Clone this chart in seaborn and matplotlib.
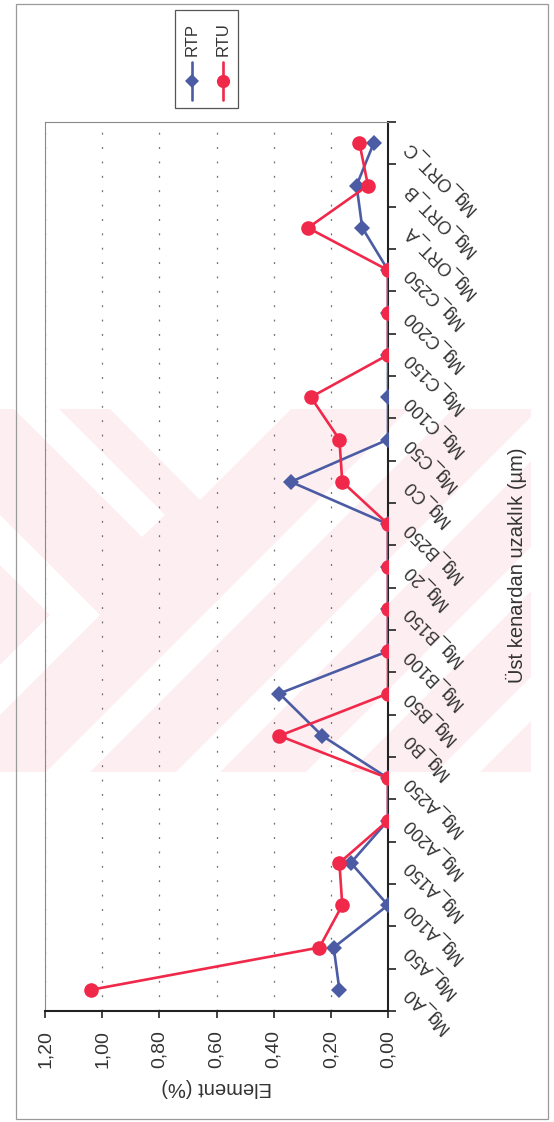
import numpy as np
import pandas as pd
import matplotlib
matplotlib.use("Agg")
import matplotlib.pyplot as plt
import seaborn as sns
from matplotlib.lines import Line2D
from matplotlib.patches import Rectangle, Polygon
from matplotlib.ticker import FixedLocator

# ---------------- data ----------------
categories = ["Mg_A0", "Mg_A50", "Mg_A100", "Mg_A150", "Mg_A200", "Mg_A250",
              "Mg_B0", "Mg_B50", "Mg_B100", "Mg_B150", "Mg_20", "Mg_B250",
              "Mg_C0", "Mg_C50", "Mg_C100", "Mg_C150", "Mg_C200", "Mg_C250",
              "Mg_ORT_A", "Mg_ORT_B", "Mg_ORT_C"]
rtp = [0.17, 0.19, 0.00, 0.13, 0.00, 0.00, 0.23, 0.38, 0.00, 0.00, 0.00,
       0.00, 0.34, 0.00, 0.00, 0.00, 0.00, 0.00, 0.09, 0.11, 0.05]
rtu = [1.04, 0.24, 0.16, 0.17, 0.00, 0.00, 0.38, 0.00, 0.00, 0.00, 0.00,
       0.00, 0.16, 0.17, 0.27, 0.00, 0.00, 0.00, 0.28, 0.07, 0.10]
series_names = ["RTP", "RTU"]
value_ticks = [0.0, 0.2, 0.4, 0.6, 0.8, 1.0, 1.2]
value_tick_labels = ["0,00", "0,20", "0,40", "0,60", "0,80", "1,00", "1,20"]
x_title = "Üst kenardan uzaklık (µm)"
y_title = "Element (%)"

# ---------------- style ----------------
sns.set_style("white")
plt.rcParams['font.family'] = ['Liberation Sans', 'DejaVu Sans']
BLUE = "#4b5ca4"
RED = "#f0284a"
PINK = "#fdeef1"
W, H = 554, 1122

fig = plt.figure(figsize=(W / 100, H / 100), dpi=100)

def P(x, y):
    return (x / W, 1 - y / H)

# ---------- scanned-page watermark (background decoration) ----------
pink = Rectangle(P(0, 772), 531 / W, (772 - 409) / H, transform=fig.transFigure,
                 facecolor=PINK, edgecolor='none', zorder=-10)
fig.add_artist(pink)
white_shapes = []
for c in [840, 970, 1100, 1230]:
    w = 22
    white_shapes.append([(c - w - 300, 300), (c + w - 300, 300),
                         (c + w - 900, 900), (c - w - 900, 900)])
white_shapes.append([(110, 409), (291, 409), (200, 500)])
white_shapes.append([(14, 409), (59, 409), (165, 515), (142, 537)])
white_shapes.append([(0, 515), (100, 615), (0, 715), (0, 665), (50, 615), (0, 565)])
for shp in white_shapes:
    poly = Polygon([P(x, y) for x, y in shp], closed=True, transform=fig.transFigure,
                   facecolor='white', edgecolor='none', zorder=-9)
    poly.set_clip_path(pink)
    fig.add_artist(poly)

# page frame
frame = Rectangle(P(16, 1119), (548 - 16) / W, (1119 - 4) / H, transform=fig.transFigure,
                  facecolor='none', edgecolor='#9a9a9a', lw=0.9, zorder=-5)
fig.add_artist(frame)

# ---------------- axes (chart is rotated: categories run upward) ----------------
ax = fig.add_axes([45 / W, 1 - 1011 / H, (388 - 45) / W, (1011 - 122) / H])
ax.set_facecolor('none')

df = pd.DataFrame({
    "pos": list(range(len(categories))) * 2,
    "value": rtp + rtu,
    "series": ["RTP"] * len(rtp) + ["RTU"] * len(rtu),
})
sns.lineplot(data=df, x="value", y="pos", hue="series", style="series",
             hue_order=series_names, style_order=series_names,
             palette={"RTP": BLUE, "RTU": RED},
             markers={"RTP": "D", "RTU": "o"}, dashes=False,
             orient="y", sort=True, errorbar=None, estimator=None,
             lw=1.9, markersize=0, ax=ax, legend=False)
# marker sizes per series
for line, ms in zip(ax.get_lines(), [8, 10.5]):
    line.set_markersize(ms)
    line.set_markeredgewidth(0)
    line.set_solid_joinstyle('miter')

ax.set_xlim(1.2, 0.0)
ax.set_ylim(-0.5, len(categories) - 0.5)

# value axis (bottom)
ax.xaxis.set_major_locator(FixedLocator(value_ticks))
ax.set_xticklabels(value_tick_labels)
ax.tick_params(axis='x', which='major', direction='out', length=5, width=1.2,
               color='#222', bottom=True, labelsize=14, pad=9, labelrotation=90)
ax.grid(axis='x', linestyle=(0, (1.5, 10)), color='#6e6e6e', lw=0.9)
ax.grid(axis='y', visible=False)
ax.set_xlabel(y_title, fontsize=14.5, rotation=180, labelpad=7, color='#333')

# category axis (right)
ax.yaxis.set_major_locator(FixedLocator(list(range(len(categories)))))
ax.yaxis.set_minor_locator(FixedLocator(list(np.arange(-0.5, len(categories), 1.0))))
ax.set_yticklabels(categories)
ax.tick_params(axis='y', which='both', left=False, right=True,
               labelleft=False, labelright=True)
ax.tick_params(axis='y', which='major', length=0, pad=13, labelsize=13)
ax.tick_params(axis='y', which='minor', direction='out', length=6, width=1.2, color='#222')
for lab in ax.get_yticklabels():
    lab.set_rotation(135)
    lab.set_rotation_mode('anchor')
    lab.set_ha('right')
    lab.set_va('center')
    lab.set_color('#333')
for lab in ax.get_xticklabels():
    lab.set_color('#333')

ax.yaxis.set_label_position('right')
ax.set_ylabel(x_title, fontsize=14.5, rotation=90, color='#333')
ax.yaxis.set_label_coords((516 - 45) / (388 - 45), (1011 - 565) / (1011 - 122))
ax.yaxis.label.set_va('center')
ax.yaxis.label.set_ha('center')

for side in ['left', 'top']:
    ax.spines[side].set_color('#8a8a8a')
    ax.spines[side].set_linewidth(0.8)
for side in ['right', 'bottom']:
    ax.spines[side].set_color('#222')
    ax.spines[side].set_linewidth(1.5)
ax.spines['right'].set_zorder(1.5)

# ---------------- legend (rotated, drawn manually) ----------------
leg_box = Rectangle(P(175, 108), (238 - 175) / W, (108 - 10) / H, transform=fig.transFigure,
                    facecolor='white', edgecolor='#555', lw=0.9)
fig.add_artist(leg_box)
for name, col, mk, ms, xpx in [("RTP", BLUE, "D", 7, 192), ("RTU", RED, "o", 9.5, 223)]:
    fig.add_artist(Line2D([xpx / W, xpx / W], [1 - 62 / H, 1 - 100 / H],
                          transform=fig.transFigure, color=col, lw=1.9))
    fig.add_artist(Line2D([xpx / W], [1 - 81 / H], transform=fig.transFigure,
                          color=col, marker=mk, markersize=ms, markeredgewidth=0, lw=0))
    fig.text(xpx / W, 1 - 39 / H, name, rotation=90, ha='center', va='center',
             fontsize=12, color='#333')

fig.savefig("out.png", dpi=100, facecolor='white')
